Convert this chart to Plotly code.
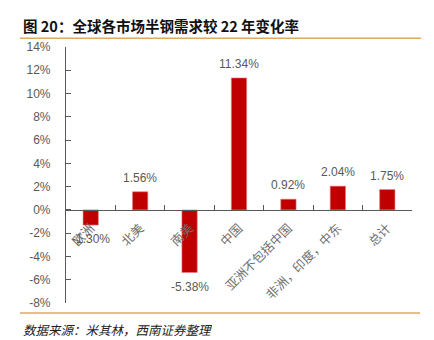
import plotly.graph_objects as go

# Change in semi-steel tyre demand vs 2022, by market (%)
categories = ["欧洲", "北美", "南美", "中国", "亚洲不包括中国", "非洲，印度，中东", "总计"]
changes = [-1.30, 1.56, -5.38, 11.34, 0.92, 2.04, 1.75]
y_ticks = [-8, -6, -4, -2, 0, 2, 4, 6, 8, 10, 12, 14]

BAR_RED = "#C00000"
AXIS_GREY = "#595959"
TEXT_GREY = "#595959"
LABEL_GREY = "#6e6e6e"
RULE_GOLD = "#E0A860"
FONT = "Liberation Sans, Noto Sans CJK SC, sans-serif"

W, H = 434, 340
L, R, T, B = 66, 22, 47, 37
PW, PH = W - L - R, H - T - B


def px_x(x):
    return (x - L) / PW


def px_y(y):
    return (H - B - y) / PH


fig = go.Figure()
fig.add_trace(go.Bar(
    x=categories,
    y=changes,
    marker=dict(color=BAR_RED, line=dict(color="#E88080", width=0.6)),
    hoverinfo="x+y",
))

# value labels just beyond each bar end
for cat, v in zip(categories, changes):
    fig.add_annotation(
        x=cat, y=v, xref="x", yref="y",
        text=f"{v:.2f}%",
        showarrow=False,
        yanchor="bottom" if v >= 0 else "top",
        yshift=5 if v >= 0 else -5,
        font=dict(family=FONT, size=12, color=TEXT_GREY),
    )

# title and source note
fig.add_annotation(
    x=px_x(21), y=px_y(25), xref="paper", yref="paper",
    xanchor="left", yanchor="middle", showarrow=False,
    text="<b>图 20：全球各市场半钢需求较 22 年变化率</b>",
    font=dict(family="Noto Sans CJK SC, sans-serif", size=14.5, color="#111111"),
)
fig.add_annotation(
    x=px_x(21), y=px_y(329), xref="paper", yref="paper",
    xanchor="left", yanchor="middle", showarrow=False,
    text="<i>数据来源：米其林，西南证券整理</i>",
    font=dict(family="Noto Sans CJK SC, sans-serif", size=12.5, color="#222222"),
)

# header and footer rules
for y_pix, x0, x1 in [(38.3, 20, 421), (313, 20, 420)]:
    fig.add_shape(
        type="line", xref="paper", yref="paper",
        x0=px_x(x0), x1=px_x(x1), y0=px_y(y_pix), y1=px_y(y_pix),
        line=dict(color=RULE_GOLD, width=1.6),
    )

fig.update_layout(
    width=W, height=H,
    margin=dict(l=L, r=R, t=T, b=B, autoexpand=False),
    paper_bgcolor="white", plot_bgcolor="white",
    showlegend=False,
    bargap=0.69,
    font=dict(family=FONT, color=TEXT_GREY),
    xaxis=dict(
        type="category",
        anchor="free",
        position=(0 - y_ticks[0]) / (y_ticks[-1] - y_ticks[0]),
        showline=True, linecolor=AXIS_GREY, linewidth=1.2,
        ticks="inside", ticklen=5, tickcolor=AXIS_GREY, tickwidth=1,
        tickson="boundaries",
        tickangle=-45,
        ticklabelstandoff=5,
        tickfont=dict(family="Noto Sans CJK SC, sans-serif", size=12.5, color=LABEL_GREY),
        showgrid=False, zeroline=False,
        automargin=False,
    ),
    yaxis=dict(
        range=[y_ticks[0], y_ticks[-1]],
        tickvals=y_ticks,
        ticktext=[f"{t}%" for t in y_ticks],
        showline=True, linecolor=AXIS_GREY, linewidth=1.2,
        ticks="inside", ticklen=5, tickcolor=AXIS_GREY, tickwidth=1,
        ticklabelstandoff=12,
        tickfont=dict(family=FONT, size=12, color=TEXT_GREY),
        showgrid=False, zeroline=False,
        automargin=False,
    ),
)

fig.write_html("out.html")
